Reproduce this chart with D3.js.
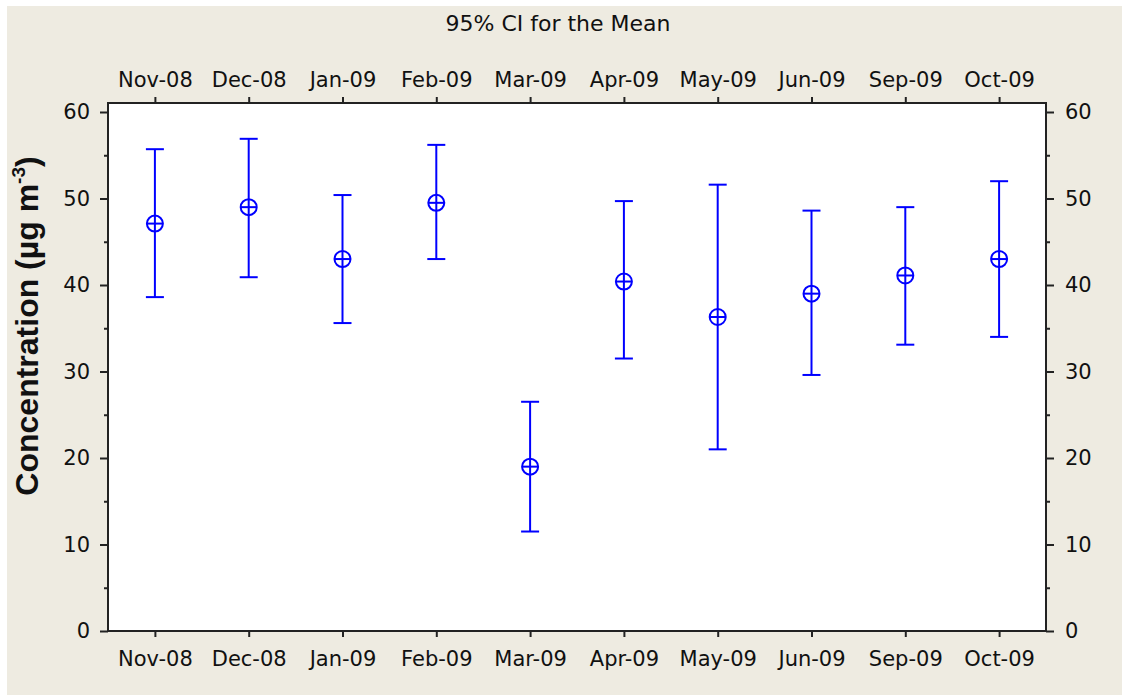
<!DOCTYPE html>
<html>
<head>
<meta charset="utf-8">
<script src="https://cdn.jsdelivr.net/npm/d3@7"></script>
<style>
  body { margin: 0; background: #ffffff; }
</style>
</head>
<body>
<script>
var months = ["Nov-08", "Dec-08", "Jan-09", "Feb-09", "Mar-09", "Apr-09", "May-09", "Jun-09", "Sep-09", "Oct-09"];
var means  = [47.1, 49.0, 43.0, 49.5, 19.0, 40.4, 36.3, 39.0, 41.1, 43.0];
var lower  = [38.6, 40.9, 35.6, 43.0, 11.5, 31.5, 21.0, 29.6, 33.1, 34.0];
var upper  = [55.7, 56.9, 50.4, 56.2, 26.5, 49.7, 51.6, 48.6, 49.0, 52.0];
var yTicks = [0, 10, 20, 30, 40, 50, 60];
var yMinor = [5, 15, 25, 35, 45, 55];

var rows = months.map(function(m, i) {
    return {month: m, mean: means[i], lo: lower[i], hi: upper[i]};
});

var svg = d3.select("body")
    .append("svg")
    .attr("width", 1122)
    .attr("height", 695);

var font = "'DejaVu Sans', Verdana, sans-serif";
var ink = "#222";

// window background
svg.append("rect")
    .attr("x", 7).attr("y", 6)
    .attr("width", 1115).attr("height", 689)
    .attr("fill", "#eeebe1");

var plotL = 108, plotR = 1046, plotT = 103, plotB = 631;

var x = d3.scalePoint()
    .domain(months)
    .range([plotL, plotR])
    .padding(0.5);

var y = d3.scaleLinear()
    .domain([0, 60])
    .range([plotB, 112]);

// plot area
svg.append("rect")
    .attr("x", plotL).attr("y", plotT)
    .attr("width", plotR - plotL).attr("height", plotB - plotT)
    .attr("fill", "#ffffff")
    .attr("stroke", ink)
    .attr("stroke-width", 2);

// axes
function styleAxis(g) {
    g.select(".domain").remove();
    g.selectAll(".tick line").attr("stroke", ink).attr("stroke-width", 2);
    g.selectAll(".tick text")
        .attr("fill", "#111")
        .attr("font-family", font)
        .attr("font-size", "21px");
}

svg.append("g")
    .attr("transform", "translate(" + plotL + ",0)")
    .call(d3.axisLeft(y).tickValues(yTicks).tickSize(8).tickPadding(10).tickFormat(d3.format("d")))
    .call(styleAxis);

svg.append("g")
    .attr("transform", "translate(" + plotR + ",0)")
    .call(d3.axisRight(y).tickValues(yTicks).tickSize(8).tickPadding(11).tickFormat(d3.format("d")))
    .call(styleAxis);

svg.append("g")
    .attr("transform", "translate(" + plotL + ",0)")
    .call(d3.axisLeft(y).tickValues(yMinor).tickSize(4).tickFormat(""))
    .call(styleAxis);

svg.append("g")
    .attr("transform", "translate(" + plotR + ",0)")
    .call(d3.axisRight(y).tickValues(yMinor).tickSize(4).tickFormat(""))
    .call(styleAxis);

svg.append("g")
    .attr("transform", "translate(0," + plotB + ")")
    .call(d3.axisBottom(x).tickSize(6).tickPadding(14))
    .call(styleAxis);

svg.append("g")
    .attr("transform", "translate(0," + plotT + ")")
    .call(d3.axisTop(x).tickSize(6).tickPadding(10))
    .call(styleAxis);

// title
svg.append("text")
    .attr("x", 558)
    .attr("y", 31)
    .style("text-anchor", "middle")
    .attr("font-family", font)
    .attr("font-size", "22px")
    .attr("fill", "#111")
    .text("95% CI for the Mean");

// y label
var ylab = svg.append("text")
    .attr("transform", "translate(38,326) rotate(-90)")
    .style("text-anchor", "middle")
    .attr("font-family", "'Liberation Sans', Arial, sans-serif")
    .attr("font-weight", "bold")
    .attr("font-size", "32px")
    .attr("fill", "#111");
ylab.append("tspan").text("Concentration (\u00b5g m");
ylab.append("tspan").attr("font-size", "19px").attr("dy", -13).text("-3");
ylab.append("tspan").attr("dy", 13).text(")");

// intervals
var blue = "#0000ff";
var g = svg.append("g")
    .attr("stroke", blue)
    .attr("stroke-width", 2)
    .attr("fill", "none");

g.selectAll(".ci")
    .data(rows)
    .enter()
    .append("line")
    .attr("x1", function(d) { return x(d.month); })
    .attr("x2", function(d) { return x(d.month); })
    .attr("y1", function(d) { return y(d.hi); })
    .attr("y2", function(d) { return y(d.lo); });

g.selectAll(".capHi")
    .data(rows)
    .enter()
    .append("line")
    .attr("x1", function(d) { return x(d.month) - 9; })
    .attr("x2", function(d) { return x(d.month) + 9; })
    .attr("y1", function(d) { return y(d.hi); })
    .attr("y2", function(d) { return y(d.hi); });

g.selectAll(".capLo")
    .data(rows)
    .enter()
    .append("line")
    .attr("x1", function(d) { return x(d.month) - 9; })
    .attr("x2", function(d) { return x(d.month) + 9; })
    .attr("y1", function(d) { return y(d.lo); })
    .attr("y2", function(d) { return y(d.lo); });

g.selectAll(".mark")
    .data(rows)
    .enter()
    .append("circle")
    .attr("cx", function(d) { return x(d.month); })
    .attr("cy", function(d) { return y(d.mean); })
    .attr("r", 8);

g.selectAll(".hbar")
    .data(rows)
    .enter()
    .append("line")
    .attr("x1", function(d) { return x(d.month) - 8; })
    .attr("x2", function(d) { return x(d.month) + 8; })
    .attr("y1", function(d) { return y(d.mean); })
    .attr("y2", function(d) { return y(d.mean); });
</script>
</body>
</html>
